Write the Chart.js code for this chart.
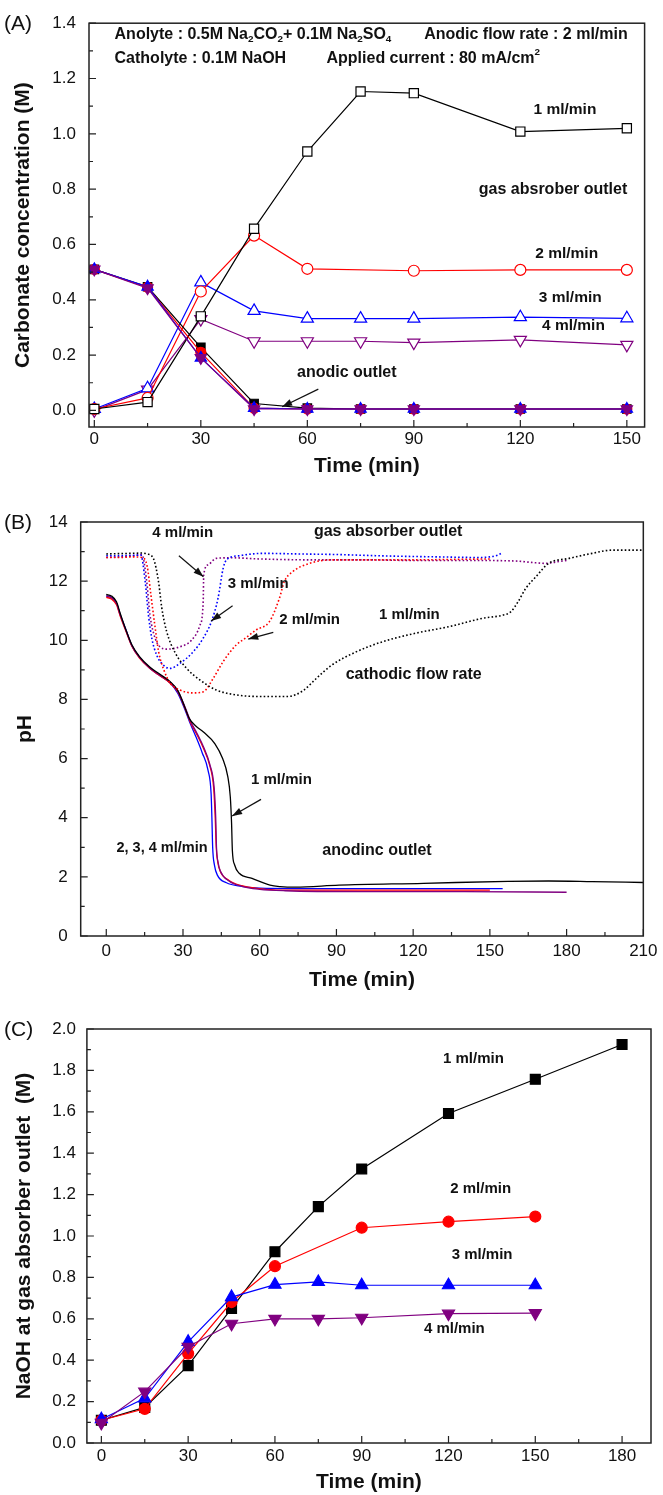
<!DOCTYPE html>
<html>
<head>
<meta charset="utf-8">
<script src="https://cdn.jsdelivr.net/npm/chart.js@4.4.0/dist/chart.umd.min.js"></script>
<style>
  body { margin: 0; background: #fff; }
  canvas { position: absolute; left: 0; }
</style>
</head>
<body>
<canvas id="chartA" width="663" height="485" style="top:0px;width:663px;height:485px"></canvas>
<canvas id="chartB" width="663" height="505" style="top:490px;width:663px;height:505px"></canvas>
<canvas id="chartC" width="663" height="500" style="top:995px;width:663px;height:500px"></canvas>
<script>
const FONT = "'Liberation Sans', Arial, Helvetica, sans-serif";
const BLACK = '#000000', RED = '#ff0000', BLUE = '#0000ff', PURPLE = '#800080';

// (A) carbonate concentration vs time
const timeA = [0, 15, 30, 45, 60, 75, 90, 120, 150];
const timeA2 = [0, 15, 30, 45, 60, 90, 120, 150];   // 2 ml/min absorber has no 75 min point
const gasA1 = [0.005, 0.03, 0.34, 0.657, 0.936, 1.153, 1.147, 1.008, 1.02];
const gasA2 = [0.005, 0.045, 0.43, 0.632, 0.512, 0.505, 0.508, 0.508];
const gasA3 = [0.005, 0.08, 0.463, 0.36, 0.332, 0.332, 0.332, 0.337, 0.333];
const gasA4 = [0.0, 0.075, 0.33, 0.25, 0.25, 0.25, 0.245, 0.255, 0.237];
const anA1 = [0.51, 0.447, 0.228, 0.025, 0.008, 0.005, 0.005, 0.005, 0.005];
const anA2 = [0.51, 0.445, 0.21, 0.008, 0.005, 0.005, 0.005, 0.005, 0.005];
const anA3 = [0.51, 0.447, 0.19, 0.008, 0.005, 0.005, 0.005, 0.005, 0.005];
const anA4 = [0.51, 0.442, 0.19, 0.005, 0.005, 0.005, 0.005, 0.005, 0.005];
const xTicksA = [0, 30, 60, 90, 120, 150];
const yTicksA = [0, 0.2, 0.4, 0.6, 0.8, 1.0, 1.2, 1.4];

// (B) pH curves, gas absorber outlet (dotted)
const gasB1T = [0, 5, 10, 14, 16, 18.4, 20.4, 21.7, 23.6, 26.8, 31.4, 36.6, 43, 51, 60, 71, 77, 82, 88, 97.5, 108, 121, 134, 147, 155, 158, 161, 164, 168, 173, 181, 190, 198, 210];
const gasB1 = [12.92, 12.93, 12.94, 12.95, 12.92, 12.77, 12.0, 11.1, 10.3, 9.6, 9.05, 8.66, 8.32, 8.15, 8.1, 8.1, 8.3, 8.7, 9.15, 9.6, 9.95, 10.24, 10.46, 10.74, 10.85, 10.95, 11.3, 11.75, 12.15, 12.6, 12.77, 12.94, 13.05, 13.05];
const gasB2T = [0, 5, 10, 14, 16, 17.5, 19, 20.5, 22.5, 25, 28.8, 34, 38, 41.8, 45.7, 50.8, 54.7, 58.6, 63.8, 67.7, 69.6, 72.9, 79.4, 88.4, 100, 120, 140, 150];
const gasB2 = [12.8, 12.8, 12.82, 12.8, 12.5, 11.5, 10.5, 9.6, 9.0, 8.55, 8.32, 8.22, 8.26, 8.71, 9.28, 9.84, 10.09, 10.35, 10.63, 11.42, 11.98, 12.32, 12.6, 12.72, 12.72, 12.72, 12.74, 12.75];
const gasB3T = [0, 5, 10, 13.5, 15.2, 16.5, 17.8, 19.7, 22.3, 24.9, 28.8, 34, 37.9, 41.1, 43.7, 45.7, 47, 52, 61, 75, 90, 110, 130, 145, 150, 153, 155];
const gasB3 = [12.86, 12.86, 12.87, 12.88, 12.0, 10.85, 10.07, 9.5, 9.16, 9.05, 9.22, 9.61, 10.07, 10.63, 11.42, 12.43, 12.72, 12.86, 12.94, 12.92, 12.9, 12.85, 12.82, 12.8, 12.82, 12.88, 12.97];
const gasB4T = [0, 5, 10, 13.9, 15.8, 17.1, 19.1, 21, 23.6, 28.8, 33.3, 36.6, 37.9, 38.1, 39.8, 43, 49, 60, 80, 100, 120, 140, 160, 168, 172, 176, 180];
const gasB4 = [12.8, 12.82, 12.85, 12.9, 12.0, 10.85, 10.07, 9.78, 9.7, 9.78, 10.0, 10.5, 11.3, 12.2, 12.55, 12.77, 12.79, 12.75, 12.72, 12.72, 12.7, 12.7, 12.68, 12.62, 12.6, 12.65, 12.7];

// (B) pH curves, anodic outlet (solid)
const anB1T = [0, 2, 4, 5.5, 7.5, 10, 13, 17, 21, 25, 28, 30, 32.5, 35, 38, 42.5, 45.5, 47.5, 48.5, 49, 49.3, 50.2, 52, 57, 64, 68, 74, 91, 124, 157, 173, 190, 210];
const anB1 = [11.55, 11.5, 11.3, 10.9, 10.4, 9.85, 9.45, 9.1, 8.85, 8.6, 8.3, 7.9, 7.35, 7.1, 6.9, 6.5, 6.0, 5.4, 4.7, 3.8, 2.9, 2.4, 2.12, 1.95, 1.72, 1.67, 1.65, 1.72, 1.78, 1.85, 1.86, 1.84, 1.81];
const anB2T = [0, 2, 4, 5.5, 7.5, 10, 13, 17, 21, 25, 28, 31, 33, 35.5, 38, 40.5, 42, 42.6, 43, 43.6, 44.5, 48, 53, 60, 68, 90, 120, 150];
const anB2 = [11.45, 11.4, 11.2, 10.8, 10.35, 9.8, 9.4, 9.05, 8.8, 8.55, 8.25, 7.65, 7.2, 6.8, 6.35, 5.75, 5.0, 4.0, 3.0, 2.5, 2.2, 1.88, 1.7, 1.6, 1.55, 1.55, 1.55, 1.55];
const anB3T = [0, 2, 4, 5.5, 7.5, 10, 13, 17, 21, 25, 28, 31, 33, 35, 37.5, 39.8, 41, 41.3, 41.6, 42.3, 43.5, 47, 53, 60, 90, 120, 155];
const anB3 = [11.5, 11.45, 11.25, 10.85, 10.4, 9.82, 9.42, 9.05, 8.8, 8.55, 8.2, 7.6, 7.15, 6.75, 6.2, 5.6, 4.8, 4.0, 3.0, 2.4, 2.05, 1.8, 1.68, 1.62, 1.6, 1.6, 1.6];
const anB4T = [0, 2, 4, 5.5, 7.5, 10, 13, 17, 21, 25, 28, 31, 33, 35.5, 38, 40.5, 42.2, 42.8, 43.1, 43.7, 44.6, 48, 53, 60, 70, 100, 140, 180];
const anB4 = [11.5, 11.45, 11.25, 10.85, 10.38, 9.82, 9.42, 9.07, 8.83, 8.58, 8.28, 7.7, 7.25, 6.85, 6.4, 5.8, 5.0, 4.0, 3.0, 2.5, 2.2, 1.86, 1.68, 1.58, 1.53, 1.5, 1.5, 1.48];
const xTicksB = [0, 30, 60, 90, 120, 150, 180, 210];
const yTicksB = [0, 2, 4, 6, 8, 10, 12, 14];

// (C) NaOH at gas absorber outlet
const timeC1 = [0, 15, 30, 45, 60, 75, 90, 120, 150, 180];
const timeC2 = [0, 15, 30, 45, 60, 90, 120, 150];
const timeC3 = [0, 15, 30, 45, 60, 75, 90, 120, 150];
const naohC1 = [0.11, 0.172, 0.374, 0.65, 0.924, 1.142, 1.324, 1.592, 1.757, 1.925];
const naohC2 = [0.11, 0.165, 0.432, 0.681, 0.854, 1.04, 1.069, 1.094];
const naohC3 = [0.115, 0.216, 0.489, 0.705, 0.765, 0.778, 0.762, 0.762, 0.762];
const naohC4 = [0.097, 0.248, 0.465, 0.576, 0.6, 0.6, 0.605, 0.625, 0.627];
const xTicksC = [0, 30, 60, 90, 120, 150, 180];
const yTicksC = [0, 0.2, 0.4, 0.6, 0.8, 1.0, 1.2, 1.4, 1.6, 1.8, 2.0];

function pts(xs, ys) {
    return xs.map(function (x, i) { return {x: x, y: ys[i]}; });
}

function marker(label, xs, ys, color, style, radius, open, rot) {
    return {
        label: label,
        data: pts(xs, ys),
        borderColor: color,
        borderWidth: 1.2,
        backgroundColor: open ? '#ffffff' : color,
        pointStyle: style,
        pointRadius: radius,
        pointRotation: rot || 0,
        pointBorderWidth: 1.2,
        tension: 0
    };
}

function curve(label, xs, ys, color, dotted) {
    return {
        label: label,
        data: pts(xs, ys),
        borderColor: color,
        borderWidth: dotted ? 1.6 : 1.3,
        borderDash: dotted ? [1.6, 2.2] : [],
        pointRadius: 0,
        cubicInterpolationMode: 'monotone'
    };
}

// text with sub/superscripts: runs = [[text, 'sub'|'sup'|undefined], ...]
function drawRuns(ctx, runs, x, y, size) {
    runs.forEach(function (r) {
        const mode = r[1];
        const s = mode ? size * 0.62 : size;
        ctx.font = 'bold ' + s + 'px ' + FONT;
        const dy = mode === 'sub' ? size * 0.3 : (mode === 'sup' ? -size * 0.38 : 0);
        ctx.fillText(r[0], x, y + dy);
        x += ctx.measureText(r[0]).width;
    });
}

function drawArrow(ctx, x1, y1, x2, y2) {
    ctx.beginPath();
    ctx.moveTo(x1, y1);
    ctx.lineTo(x2, y2);
    ctx.stroke();
    const a = Math.atan2(y2 - y1, x2 - x1);
    const len = 10, half = 3.5;
    ctx.beginPath();
    ctx.moveTo(x2, y2);
    ctx.lineTo(x2 - len * Math.cos(a) + half * Math.sin(a), y2 - len * Math.sin(a) - half * Math.cos(a));
    ctx.lineTo(x2 - len * Math.cos(a) - half * Math.sin(a), y2 - len * Math.sin(a) + half * Math.cos(a));
    ctx.closePath();
    ctx.fill();
}

// frame, inward ticks, panel letter, labels and arrows
function framePlugin(ann) {
    return {
        id: 'frame',
        afterDraw: function (chart) {
            const ctx = chart.ctx, area = chart.chartArea;
            const sx = chart.scales.x, sy = chart.scales.y;
            ctx.save();
            ctx.strokeStyle = '#222';
            ctx.fillStyle = '#111';
            ctx.lineWidth = 1.5;
            ctx.strokeRect(area.left, area.top, area.right - area.left, area.bottom - area.top);

            ctx.lineWidth = 1.2;
            ctx.beginPath();
            function tick(scale, v, len, horizontal) {
                const p = scale.getPixelForValue(v);
                if (horizontal) { ctx.moveTo(p, area.bottom); ctx.lineTo(p, area.bottom - len); }
                else { ctx.moveTo(area.left, p); ctx.lineTo(area.left + len, p); }
            }
            [[sx, ann.xTicks, true], [sy, ann.yTicks, false]].forEach(function (t) {
                const major = t[1];
                major.forEach(function (v) { tick(t[0], v, 7, t[2]); });
                for (let i = 0; i < major.length - 1; i++) tick(t[0], (major[i] + major[i + 1]) / 2, 4, t[2]);
            });
            ctx.stroke();

            ctx.textBaseline = 'middle';
            ctx.textAlign = 'left';
            ctx.font = '21px ' + FONT;
            ctx.fillText(ann.panel, 4, area.top + 1);

            ann.labels.forEach(function (l) {
                const runs = typeof l.text === 'string' ? [[l.text]] : l.text;
                drawRuns(ctx, runs, sx.getPixelForValue(l.x), sy.getPixelForValue(l.y), l.size);
            });

            ctx.lineWidth = 1.2;
            ctx.strokeStyle = '#111';
            ann.arrows.forEach(function (a) {
                drawArrow(ctx, sx.getPixelForValue(a[0]), sy.getPixelForValue(a[1]),
                          sx.getPixelForValue(a[2]), sy.getPixelForValue(a[3]));
            });
            ctx.restore();
        }
    };
}

function makeChart(id, datasets, ax, ann) {
    ann.xTicks = ax.xTicks;
    ann.yTicks = ax.yTicks;
    return new Chart(document.getElementById(id), {
        type: 'line',
        data: {datasets: datasets},
        options: {
            responsive: false,
            animation: false,
            devicePixelRatio: 1,
            layout: {padding: ax.padding},
            plugins: {legend: {display: false}, tooltip: {enabled: false}},
            scales: {
                x: {
                    type: 'linear', min: ax.xMin, max: ax.xMax,
                    grid: {display: false, drawTicks: false},
                    border: {display: false},
                    ticks: {font: {size: 17}, color: '#111', padding: ax.xPad, autoSkip: false, maxRotation: 0},
                    afterBuildTicks: function (s) { s.ticks = ax.xTicks.map(function (v) { return {value: v}; }); },
                    afterFit: function (s) { s.height = ax.xHeight; },
                    title: {display: true, text: 'Time (min)', color: '#111',
                            font: {size: 21, weight: 'bold'}, padding: {top: 0, bottom: 0}}
                },
                y: {
                    type: 'linear', min: ax.yMin, max: ax.yMax,
                    grid: {display: false, drawTicks: false},
                    border: {display: false},
                    ticks: {font: {size: 17}, color: '#111', padding: ax.yPad, autoSkip: false,
                            callback: function (v) { return ax.yDec ? v.toFixed(ax.yDec) : String(v); }},
                    afterBuildTicks: function (s) { s.ticks = ax.yTicks.map(function (v) { return {value: v}; }); },
                    afterFit: function (s) { s.width = ax.yWidth; },
                    title: {display: true, text: ax.yTitle, color: '#111',
                            font: {size: 21, weight: 'bold'}, padding: {top: ax.yTitlePad, bottom: 0}}
                }
            }
        },
        plugins: [framePlugin(ann)]
    });
}

// ---- panel A ----
makeChart('chartA', [
    marker('an 4', timeA, anA4, PURPLE, 'triangle', 6.5, false, 180),
    marker('an 3', timeA, anA3, BLUE, 'triangle', 6.5, false),
    marker('an 2', timeA, anA2, RED, 'circle', 5, false),
    marker('an 1', timeA, anA1, BLACK, 'rect', 6, false),
    marker('gas 1', timeA, gasA1, BLACK, 'rect', 6.5, true),
    marker('gas 2', timeA2, gasA2, RED, 'circle', 5.5, true),
    marker('gas 3', timeA, gasA3, BLUE, 'triangle', 7, true),
    marker('gas 4', timeA, gasA4, PURPLE, 'triangle', 7, true, 180)
], {
    xMin: -1.5, xMax: 155, yMin: -0.06, yMax: 1.4, xTicks: xTicksA, yTicks: yTicksA,
    padding: {left: 0, right: 18.4, top: 21, bottom: 5.7},
    xHeight: 52.3, yWidth: 89, xPad: 2, yPad: 13, yDec: 1, yTitlePad: 10.5,
    yTitle: 'Carbonate concentration (M)'
}, {
    panel: '(A)',
    labels: [
        {text: [['Anolyte : 0.5M Na'], ['2', 'sub'], ['CO'], ['2', 'sub'], ['+ 0.1M Na'], ['2', 'sub'], ['SO'], ['4', 'sub']], x: 5.7, y: 1.36, size: 16},
        {text: 'Anodic flow rate : 2 ml/min', x: 92.9, y: 1.36, size: 16},
        {text: 'Catholyte : 0.1M NaOH', x: 5.7, y: 1.272, size: 16},
        {text: [['Applied current : 80 mA/cm'], ['2', 'sup']], x: 65.4, y: 1.272, size: 16},
        {text: '1 ml/min', x: 123.7, y: 1.087, size: 15.5},
        {text: 'gas absrober outlet', x: 108.3, y: 0.80, size: 16},
        {text: '2 ml/min', x: 124.2, y: 0.566, size: 15.5},
        {text: '3 ml/min', x: 125.2, y: 0.409, size: 15.5},
        {text: '4 ml/min', x: 126.1, y: 0.307, size: 15.5},
        {text: 'anodic outlet', x: 57.1, y: 0.135, size: 16}
    ],
    arrows: [[63.1, 0.077, 52.9, 0.013]]
});

// ---- panel B ----
makeChart('chartB', [
    curve('gas 1', gasB1T, gasB1, BLACK, true),
    curve('gas 2', gasB2T, gasB2, RED, true),
    curve('gas 3', gasB3T, gasB3, BLUE, true),
    curve('gas 4', gasB4T, gasB4, PURPLE, true),
    curve('an 1', anB1T, anB1, BLACK, false),
    curve('an 4', anB4T, anB4, PURPLE, false),
    curve('an 2', anB2T, anB2, RED, false),
    curve('an 3', anB3T, anB3, BLUE, false)
], {
    xMin: -10, xMax: 210, yMin: 0, yMax: 14, xTicks: xTicksB, yTicks: yTicksB,
    padding: {left: 0, right: 17.5, top: 32, bottom: 2.4},
    xHeight: 56.6, yWidth: 80.7, xPad: 5.5, yPad: 13, yDec: 0, yTitlePad: 12.5,
    yTitle: 'pH'
}, {
    panel: '(B)',
    labels: [
        {text: '4 ml/min', x: 18.0, y: 13.62, size: 15},
        {text: 'gas absorber outlet', x: 81.2, y: 13.67, size: 16},
        {text: '3 ml/min', x: 47.5, y: 11.9, size: 15},
        {text: '2 ml/min', x: 67.6, y: 10.69, size: 15},
        {text: '1 ml/min', x: 106.6, y: 10.86, size: 15},
        {text: 'cathodic flow rate', x: 93.6, y: 8.85, size: 16},
        {text: '1 ml/min', x: 56.6, y: 5.28, size: 15},
        {text: '2, 3, 4 ml/min', x: 4.0, y: 2.97, size: 14.5},
        {text: 'anodinc outlet', x: 84.5, y: 2.88, size: 16}
    ],
    arrows: [[28.4, 12.86, 38.0, 12.15], [49.4, 11.17, 41.0, 10.65],
             [65.3, 10.27, 55.5, 10.04], [60.5, 4.62, 49.2, 4.06]]
});

// ---- panel C ----
makeChart('chartC', [
    marker('4 ml/min', timeC3, naohC4, PURPLE, 'triangle', 7, false, 180),
    marker('3 ml/min', timeC3, naohC3, BLUE, 'triangle', 7, false),
    marker('2 ml/min', timeC2, naohC2, RED, 'circle', 5.5, false),
    marker('1 ml/min', timeC1, naohC1, BLACK, 'rect', 7, false)
], {
    xMin: -5, xMax: 190, yMin: 0, yMax: 2.0, xTicks: xTicksC, yTicks: yTicksC,
    padding: {left: 0, right: 12, top: 34, bottom: 0},
    xHeight: 52, yWidth: 86.9, xPad: 3.5, yPad: 11, yDec: 1, yTitlePad: 11.5,
    yTitle: 'NaOH at gas absorber outlet  (M)'
}, {
    panel: '(C)',
    labels: [
        {text: '1 ml/min', x: 118.1, y: 1.858, size: 15},
        {text: '2 ml/min', x: 120.6, y: 1.23, size: 15},
        {text: '3 ml/min', x: 121.1, y: 0.907, size: 15},
        {text: '4 ml/min', x: 111.5, y: 0.55, size: 15}
    ],
    arrows: []
});
</script>
</body>
</html>
